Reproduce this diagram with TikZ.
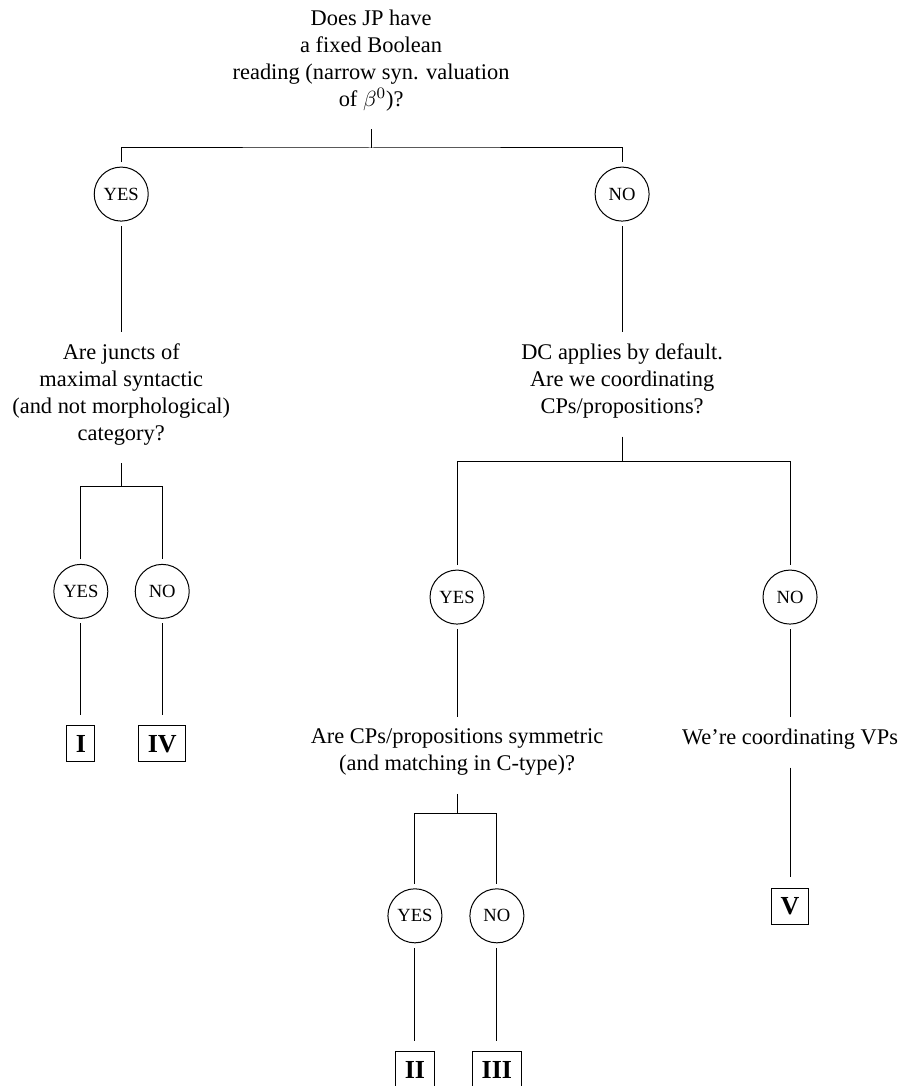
\documentclass[tikz,border=0pt]{standalone}
\usepackage{fontspec}
\setmainfont{Liberation Serif}
\begin{document}
\begin{tikzpicture}[line width=0.5pt,
  qn/.style={align=center,inner sep=0pt,outer sep=6pt,font=\fontsize{11.2}{13.5}\selectfont},
  ans/.style={draw,circle,minimum size=27pt,inner sep=0pt,outer sep=2.5pt,font=\fontsize{9.3}{11}\selectfont},
  res/.style={draw,minimum height=18pt,inner xsep=4.5pt,inner ysep=0pt,outer sep=5.5pt,font=\fontsize{13}{15}\selectfont\bfseries}]
\useasboundingbox (0,0) rectangle (15.82,-19.08);

\node[qn] (q1) at (6.52,-1.06) {Does JP have\\a fixed Boolean\\reading (narrow syn. valuation\\of $\beta^0$)?};
\coordinate (f1) at (6.52,-2.60);
\node[ans] (y1) at (2.13,-3.41) {YES};
\node[ans] (n1) at (10.93,-3.41) {NO};

\node[qn] (q2) at (2.13,-6.93) {Are juncts of\\maximal syntactic\\(and not morphological)\\category?};
\coordinate (f2) at (2.13,-8.54);
\node[ans] (y2) at (1.42,-10.39) {YES};
\node[ans] (n2) at (2.85,-10.39) {NO};
\node[res] (r1) at (1.42,-13.07) {I};
\node[res] (r4) at (2.85,-13.07) {IV};

\node[qn] (q3) at (10.93,-6.70) {DC applies by default.\\Are we coordinating\\CPs/propositions?};
\coordinate (f3) at (10.93,-8.10);
\node[ans] (y3) at (8.03,-10.49) {YES};
\node[ans] (n3) at (13.88,-10.49) {NO};

\node[qn] (q4) at (8.03,-13.22) {Are CPs/propositions symmetric\\(and matching in C-type)?};
\coordinate (f4) at (8.03,-14.29);
\node[ans] (y4) at (7.29,-16.09) {YES};
\node[ans] (n4) at (8.73,-16.09) {NO};
\node[res] (r2) at (7.29,-18.79) {II};
\node[res] (r3) at (8.73,-18.79) {III};

\node[qn] (q5) at (13.88,-12.99) {We’re coordinating VPs};
\node[res] (r5) at (13.88,-15.92) {V};

\draw[shorten <=3pt] (q1) -- (f1);
\draw (y1) |- (f1) -| (n1);
\draw (y1) -- (q2);
\draw (n1) -- (q3);

\draw[shorten <=3pt] (q2) -- (f2);
\draw (y2) |- (f2) -| (n2);
\draw (y2) -- (r1);
\draw (n2) -- (r4);

\draw[shorten <=3pt] (q3) -- (f3);
\draw (y3) |- (f3) -| (n3);
\draw (y3) -- (q4);
\draw (n3) -- (q5);
\draw[shorten <=3pt] (q5) -- (r5);

\draw[shorten <=3pt] (q4) -- (f4);
\draw (y4) |- (f4) -| (n4);
\draw (y4) -- (r2);
\draw (n4) -- (r3);
\end{tikzpicture}
\end{document}
